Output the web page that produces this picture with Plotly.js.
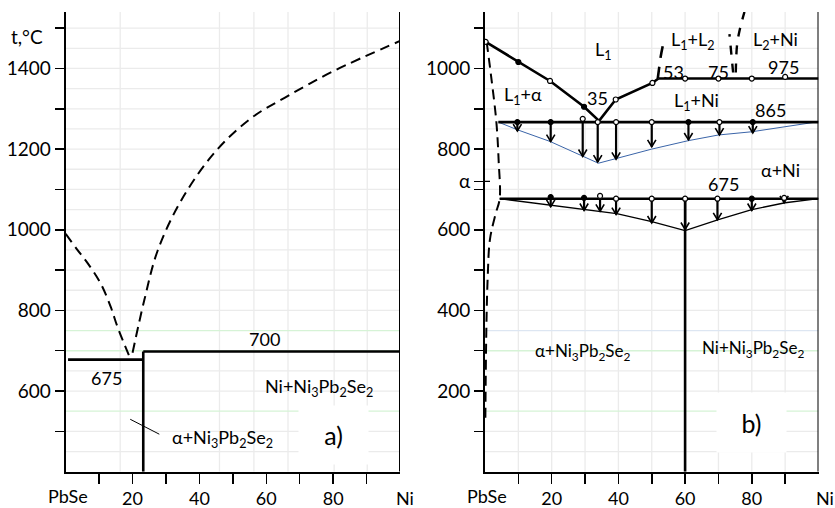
<!DOCTYPE html>
<html><head><meta charset="utf-8">
<script src="https://cdn.plot.ly/plotly-3.0.1.min.js"></script>
<style>html,body{margin:0;padding:0;background:#fff}</style>
</head><body><div id="chart" style="width:835px;height:508px"></div>
<script>
// ---------- Panel a) ----------
const aLiqLeftX = [0, 3.5, 6.5, 10.5, 13.5, 15.5, 19.3];
const aLiqLeftY = [990, 950, 918, 866, 808, 759, 681];
const aLiqRightX = [20, 23.5, 27.5, 34.5, 44.5, 55.5, 66.5, 80.5, 100];
const aLiqRightY = [695, 825, 948, 1072, 1191, 1277, 1332, 1395, 1468];
const aIso675X = [0.7, 23.2], aIso675Y = [678, 678];
const aIso700X = [23.2, 100], aIso700Y = [698, 698];
const aCompX = [23.2, 23.2], aCompY = [400, 698];
const aPointerX = [19.3, 28], aPointerY = [530, 493];
const aXTickVals = [20, 40, 60, 80];
const aXTickText = ['20', '40', '60', '80'];
const aXMinorVals = [10, 30, 50, 70, 90];
const aYTickVals = [600, 800, 1000, 1200, 1400];
const aYTickText = ['600', '800', '1000', '1200', '1400'];
const aYMinorVals = [500, 700, 900, 1100, 1300, 1500];

// ---------- Panel b) ----------
const bLiqX = [0.2, 10, 19.5, 29.7, 34.2, 39.2, 50.2, 52];
const bLiqY = [1066, 1016, 969, 905, 870, 923, 964, 975];
const bIso975X = [52, 100], bIso975Y = [975, 975];
const bIso865X = [4, 100], bIso865Y = [867, 867];
const bIso675X = [4.4, 100], bIso675Y = [677, 677];
const bCompX = [60, 60], bCompY = [0, 677];
const bOpenX = [0.2, 19.5, 39.2, 50.2, 60, 70, 80, 90];
const bOpenY = [1066, 969, 923, 964, 975, 975, 975, 979];
const bFilledX = [10, 29.7];
const bFilledY = [1016, 905];
const bBlueX = [4, 9.7, 19.5, 34, 39.5, 50, 61, 70, 80, 100];
const bBlueY = [867, 848, 819, 765, 777, 800, 821, 835, 843, 868];
const bLowX = [4.4, 19.5, 30, 39.5, 50, 60, 70, 80, 90, 100];
const bLowY = [677, 661, 650, 640, 620, 598, 625, 650, 667, 677];
const bSolvusX = [0.5, 1.8, 3.4, 4.1, 4.4, 3.2, 1.5, 0.8, 0.4, 0.1];
const bSolvusY = [1066, 983, 868, 770, 677, 640, 577, 480, 350, 120];
const bGapLX = [51.8, 52.2, 52.7, 53.8];
const bGapLY = [975, 1000, 1030, 1075];
const bGapRAX = [74.4, 73.3];
const bGapRAY = [990, 1085];
const bGapRBX = [75.2, 75.6, 76.5, 77.8];
const bGapRBY = [990, 1060, 1100, 1140];
// arrows from 865 isotherm
const bArrUX = [9.7, 19.7, 29.3, 33.8, 39.3, 50, 61, 70.3, 80.3];
const bArrUTop = [867, 867, 875, 867, 867, 867, 867, 867, 867];
const bArrUBot = [845, 819, 782, 768, 775, 806, 823, 835, 840];
const bArrUFill = [1, 1, 0, 0, 0, 0, 1, 0, 1];
// arrows from 675 isotherm
const bArrLX = [19.7, 29.7, 34.5, 39.3, 50, 60, 69.7, 80, 89.7];
const bArrLTop = [681, 679, 684, 677, 677, 677, 677, 677, 679];
const bArrLBot = [657, 648, 646, 638, 617, 601, 625, 648, 667];
const bArrLFill = [1, 1, 0, 0, 0, 0, 0, 1, 0];
const bXTickVals = [20, 40, 60, 80];
const bXTickText = ['20', '40', '60', '80'];
const bXMinorVals = [10, 30, 50, 70, 90];
const bYTickVals = [200, 400, 600, 720, 800, 1000];
const bYTickText = ['200', '400', '600', 'α', '800', '1000'];
const bYMinorVals = [100, 300, 500, 700, 900, 1100];

const FONT = 'Lato, "Open Sans", sans-serif';
const BLACK = '#000';
const thick = {color: BLACK, width: 2.6};
const dashed = {color: BLACK, width: 2, dash: '10px,6px'};

function ln(x, y, xa, ya, line, extra) {
  return Object.assign({x: x, y: y, xaxis: xa, yaxis: ya, mode: 'lines', line: line,
    hoverinfo: 'skip', showlegend: false}, extra || {});
}

const traces = [
  ln(aLiqLeftX, aLiqLeftY, 'x', 'y', Object.assign({shape: 'spline'}, dashed)),
  ln(aLiqRightX, aLiqRightY, 'x', 'y', Object.assign({shape: 'spline'}, dashed)),
  ln(aIso675X, aIso675Y, 'x', 'y', thick),
  ln(aIso700X, aIso700Y, 'x', 'y', thick),
  ln(aCompX, aCompY, 'x', 'y', thick),
  ln(aPointerX, aPointerY, 'x', 'y', {color: BLACK, width: 1}),

  ln(bBlueX, bBlueY, 'x2', 'y2', {color: '#3a64a8', width: 1}),
  ln(bLowX, bLowY, 'x2', 'y2', {color: BLACK, width: 1.3}),
  ln(bSolvusX, bSolvusY, 'x2', 'y2', Object.assign({shape: 'spline'}, dashed)),
  ln(bGapLX, bGapLY, 'x2', 'y2', {color: BLACK, width: 2.6, dash: '12px,9px', shape: 'spline'}),
  ln(bGapRAX, bGapRAY, 'x2', 'y2', {color: BLACK, width: 2.4, dash: '9px,9px'}),
  ln(bGapRBX, bGapRBY, 'x2', 'y2', {color: BLACK, width: 2.4, dash: '9px,9px', shape: 'spline'}),
  ln(bLiqX, bLiqY, 'x2', 'y2', thick),
  ln(bIso975X, bIso975Y, 'x2', 'y2', thick),
  ln(bIso865X, bIso865Y, 'x2', 'y2', thick),
  ln(bIso675X, bIso675Y, 'x2', 'y2', thick),
  ln(bCompX, bCompY, 'x2', 'y2', thick),
];

// arrows: shafts and V-shaped heads built from the arrow arrays
const HEAD_DX = 1.25;   // half width of head in x units (~4 px)
const HEAD_DY = 17;     // head height in temperature units (~7 px)
const shaftX = [], shaftY = [], headX = [], headY = [];
function addArrow(x, top, bot) {
  shaftX.push(x, x, null); shaftY.push(top, bot, null);
  headX.push(x - HEAD_DX, x, x + HEAD_DX, null);
  headY.push(bot + HEAD_DY, bot, bot + HEAD_DY, null);
}
bArrUX.forEach((x, i) => addArrow(x, bArrUTop[i], bArrUBot[i]));
bArrLX.forEach((x, i) => addArrow(x, bArrLTop[i], bArrLBot[i]));
traces.push(ln(shaftX, shaftY, 'x2', 'y2', {color: BLACK, width: 2.2}));
traces.push(ln(headX, headY, 'x2', 'y2', {color: BLACK, width: 1.6}));

// markers
function mk(x, y, filled) {
  return {x: x, y: y, xaxis: 'x2', yaxis: 'y2', mode: 'markers', hoverinfo: 'skip', showlegend: false,
    marker: {symbol: 'circle', size: 5, color: filled ? BLACK : '#fff', line: {color: BLACK, width: 1.2}}};
}
traces.push(mk(bOpenX, bOpenY, false));
traces.push(mk(bFilledX, bFilledY, true));
const uo = [[], []], uf = [[], []];
bArrUX.forEach((x, i) => { const t = bArrUFill[i] ? uf : uo; t[0].push(x); t[1].push(bArrUTop[i]); });
bArrLX.forEach((x, i) => { const t = bArrLFill[i] ? uf : uo; t[0].push(x); t[1].push(bArrLTop[i]); });
traces.push(mk(uo[0], uo[1], false));
traces.push(mk(uf[0], uf[1], true));

const annotations = [];
function txt(text, x, y, xr, yr, size, extra) {
  annotations.push(Object.assign({text: text, x: x, y: y, xref: xr, yref: yr, showarrow: false,
    font: {family: FONT, size: size || 18, color: BLACK}, xanchor: 'center', yanchor: 'middle'}, extra || {}));
}
// panel a labels
txt('t,°C', 26.5 / 835, 1480, 'paper', 'y', 19);
txt('700', 59.4, 728, 'x', 'y');
txt('675', 12.3, 633, 'x', 'y');
txt('Ni+Ni<sub>3</sub>Pb<sub>2</sub>Se<sub>2</sub>', 75.9, 610, 'x', 'y');
txt('α+Ni<sub>3</sub>Pb<sub>2</sub>Se<sub>2</sub>', 47, 483, 'x', 'y');
txt('a)', 80.2, 491, 'x', 'y', 25, {bgcolor: '#fff', width: 67, height: 56});
txt('PbSe', 68 / 835, (508 - 496) / 508, 'paper', 'paper', 18);
txt('Ni', 405 / 835, (508 - 498) / 508, 'paper', 'paper', 18);
// panel b labels
txt('L<sub>1</sub>', 35.5, 1045, 'x2', 'y2');
txt('L<sub>1</sub>+L<sub>2</sub>', 62.5, 1070, 'x2', 'y2');
txt('L<sub>2</sub>+Ni', 87, 1070, 'x2', 'y2');
txt('53', 56.5, 992, 'x2', 'y2');
txt('75', 70, 992, 'x2', 'y2');
txt('975', 89.5, 1004, 'x2', 'y2');
txt('L<sub>1</sub>+α', 11.5, 934, 'x2', 'y2');
txt('35', 33.8, 926, 'x2', 'y2');
txt('L<sub>1</sub>+Ni', 63.5, 918, 'x2', 'y2');
txt('865', 85.5, 897, 'x2', 'y2');
txt('α+Ni', 88.5, 749, 'x2', 'y2');
txt('675', 71.5, 714, 'x2', 'y2');
txt('α+Ni<sub>3</sub>Pb<sub>2</sub>Se<sub>2</sub>', 29.5, 297, 'x2', 'y2', 17);
txt('Ni+Ni<sub>3</sub>Pb<sub>2</sub>Se<sub>2</sub>', 80.5, 305, 'x2', 'y2', 17);
txt('b)', 80, 122, 'x2', 'y2', 25, {bgcolor: '#fff', width: 67, height: 57});
txt('PbSe', 486.7 / 835, (508 - 496) / 508, 'paper', 'paper', 18);
txt('Ni', 825 / 835, (508 - 498) / 508, 'paper', 'paper', 18);

// gridlines and borders
const shapes = [];
const GRID = '#ebebeb';
function hline(y, x0, x1, xr, yr, color) {
  shapes.push({type: 'line', xref: xr, yref: yr, x0: x0, x1: x1, y0: y, y1: y, layer: 'below', line: {color: color, width: 1.3}});
}
function vline(x, y0, y1, xr, yr, color) {
  shapes.push({type: 'line', xref: xr, yref: yr, x0: x, x1: x, y0: y0, y1: y1, layer: 'below', line: {color: color, width: 1.3}});
}
[16.3, 46, 56.3, 66.5, 80.3, 90.2].forEach(x => vline(x, 400, 1540, 'x', 'y', GRID));
for (let y = 450; y <= 1500; y += 50) {
  const c = (y === 750 || y === 550 || y === 700) ? '#d6f3d6' : GRID;
  hline(y, 0, 100, 'x', 'y', c);
}
for (let x = 10; x <= 90; x += 10) vline(x, 0, 1140, 'x2', 'y2', GRID);
for (let y = 50; y <= 1100; y += 50) {
  const c = y === 350 ? '#dde6f2' : ((y === 300 || y === 150) ? '#d6f3d6' : GRID);
  hline(y, 0, 100, 'x2', 'y2', c);
}
shapes.push({type: 'line', xref: 'x', yref: 'y', x0: 100, x1: 100, y0: 400, y1: 1540, line: {color: BLACK, width: 2}});
shapes.push({type: 'line', xref: 'x2', yref: 'y2', x0: 100, x1: 100, y0: 0, y1: 1140, line: {color: BLACK, width: 2}});
shapes.push({type: 'line', xref: 'x2', yref: 'y2', x0: 0, x1: 1.5, y0: 720, y1: 720, line: {color: BLACK, width: 1.3}});

function minorOf(vals, len) {
  return {tickmode: 'array', tickvals: vals, ticks: 'outside', ticklen: len, tickwidth: 1.5, tickcolor: BLACK, showgrid: false};
}
const xCommon = {range: [0, 100], showline: true, linecolor: BLACK, linewidth: 2, ticks: 'outside',
  ticklen: 10, tickwidth: 1.5, tickcolor: BLACK, showgrid: false, zeroline: false, fixedrange: true,
  tickfont: {family: FONT, size: 18, color: BLACK}, tickmode: 'array'};
const yCommon = {showline: true, linecolor: BLACK, linewidth: 2, ticks: 'outside', ticklen: 9,
  tickwidth: 1.5, tickcolor: BLACK, showgrid: false, zeroline: false, fixedrange: true,
  tickfont: {family: FONT, size: 19, color: BLACK}, tickmode: 'array'};

const layout = {
  width: 835, height: 508, margin: {l: 0, r: 0, t: 0, b: 0},
  paper_bgcolor: '#fff', plot_bgcolor: '#fff', showlegend: false,
  font: {family: FONT, color: BLACK},
  xaxis: Object.assign({}, xCommon, {domain: [65.7 / 835, 400 / 835], anchor: 'y', tickvals: aXTickVals, ticktext: aXTickText, minor: minorOf(aXMinorVals, 10)}),
  yaxis: Object.assign({}, yCommon, {domain: [36.3 / 508, 496 / 508], anchor: 'x', range: [400, 1540], tickvals: aYTickVals, ticktext: aYTickText, minor: minorOf(aYMinorVals, 9)}),
  xaxis2: Object.assign({}, xCommon, {domain: [485 / 835, 818.5 / 835], anchor: 'y2', tickvals: bXTickVals, ticktext: bXTickText, minor: minorOf(bXMinorVals, 10)}),
  yaxis2: Object.assign({}, yCommon, {domain: [36.3 / 508, 496 / 508], anchor: 'x2', range: [0, 1140], tickvals: bYTickVals, ticktext: bYTickText, minor: minorOf(bYMinorVals, 9)}),
  annotations: annotations, shapes: shapes
};
Plotly.newPlot('chart', traces, layout, {displayModeBar: false, staticPlot: true});
</script></body></html>
